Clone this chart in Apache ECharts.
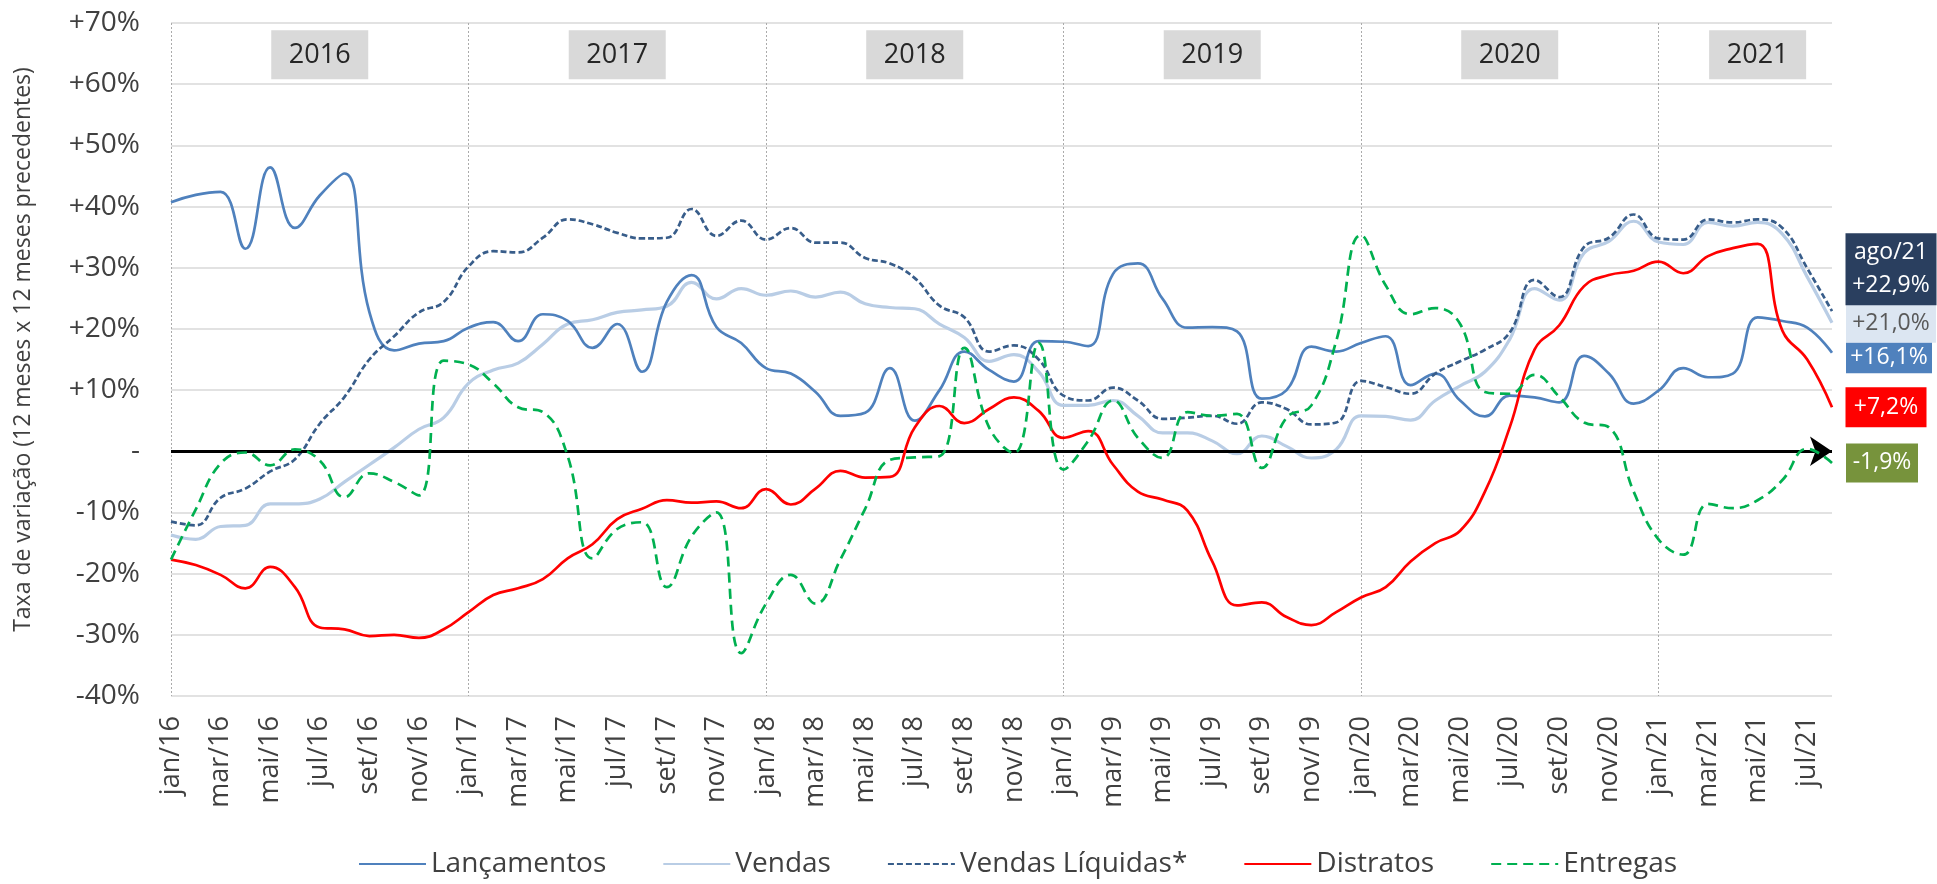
<!DOCTYPE html>
<html>
<head>
<meta charset="utf-8">
<script src="https://cdn.jsdelivr.net/npm/echarts/dist/echarts.min.js"></script>
<style>
  html, body { margin: 0; padding: 0; background: #fff; }
  #chart { width: 1937px; height: 884px; }
</style>
</head>
<body>
<div id="chart"></div>
<script>
// categorias: jan/16 .. ago/21
const monthNames = ['jan','fev','mar','abr','mai','jun','jul','ago','set','out','nov','dez'];
const yearSuffix = ['16','17','18','19','20','21'];
const months = [];
yearSuffix.forEach(y => monthNames.forEach(m => months.push(m + '/' + y)));
months.length = 68; // termina em ago/21

const yTickLabels = ['-40%','-30%','-20%','-10%','-','+10%','+20%','+30%','+40%','+50%','+60%','+70%'];

const yearLabels  = ['2016','2017','2018','2019','2020','2021'];
const yearAnchors = ['jul/16','jul/17','jul/18','jul/19','jul/20','mai/21'];
const yearBoxLevel = 64.8;

// séries (% variação 12m x 12m)
const lancamentos = [
  40.7, 41.9, 42.4, 33.1, 46.4, 36.5, 41.8, 45.4, 22.8, 16.5, 17.6, 18.0,
  20.2, 21.1, 18.0, 22.4, 21.3, 16.9, 20.8, 13.0, 24.4, 28.8, 20.3, 17.7,
  13.6, 12.7, 9.7, 5.8, 6.3, 13.6, 5.0, 10.0, 16.3, 13.3, 11.4, 18.0,
  17.9, 17.2, 29.0, 30.7, 24.9, 20.2, 20.3, 19.6, 8.6, 10.0, 17.1, 16.3,
  17.7, 18.8, 10.8, 12.7, 8.3, 5.7, 9.1, 8.8, 8.0, 15.6, 12.7, 7.8,
  9.9, 13.6, 12.1, 12.7, 21.9, 21.3, 20.2, 16.1
];
const vendas = [
  -13.7, -14.4, -12.3, -12.1, -8.6, -8.6, -7.8, -5.0, -2.2, 0.6, 3.6, 5.5,
  11.1, 13.3, 14.4, 17.5, 20.8, 21.5, 22.7, 23.1, 23.7, 27.6, 24.9, 26.6,
  25.5, 26.2, 25.2, 26.0, 24.1, 23.5, 23.3, 20.8, 18.6, 14.7, 15.8, 13.0,
  7.5, 7.5, 8.3, 5.8, 3.0, 3.0, 1.7, -0.4, 2.5, 0.8, -1.1, 0.3,
  5.8, 5.7, 5.1, 8.3, 10.7, 13.0, 18.3, 26.6, 24.7, 32.4, 34.3, 37.6,
  34.2, 33.8, 37.4, 36.8, 37.4, 35.5, 28.5, 21.0
];
const vendasLiquidas = [
  -11.5, -12.1, -7.6, -6.1, -3.3, -1.3, 4.5, 8.9, 15.0, 18.8, 22.7, 24.4,
  30.2, 32.7, 32.5, 34.9, 37.9, 37.1, 35.7, 34.8, 34.9, 39.6, 35.2, 37.7,
  34.6, 36.5, 34.1, 34.1, 31.6, 30.7, 28.3, 23.8, 21.9, 16.3, 17.3, 15.0,
  9.1, 8.3, 10.4, 8.3, 5.3, 5.5, 5.8, 4.5, 8.0, 6.9, 4.4, 4.7,
  11.5, 10.5, 9.4, 12.7, 14.7, 16.6, 19.4, 28.0, 25.2, 33.4, 34.9, 38.7,
  34.8, 34.6, 37.9, 37.4, 37.9, 36.5, 29.9, 22.9
];
const distratos = [
  -17.7, -18.6, -20.2, -22.4, -18.9, -22.2, -28.8, -29.1, -30.2, -30.0, -30.5, -29.1,
  -26.3, -23.5, -22.4, -20.9, -17.5, -15.2, -11.1, -9.4, -8.0, -8.4, -8.2, -9.3,
  -6.2, -8.7, -6.1, -3.2, -4.3, -4.2, 3.9, 7.4, 4.6, 6.9, 8.8, 6.6,
  2.2, 3.3, -2.2, -6.6, -7.9, -9.7, -18.0, -25.2, -24.7, -27.1, -28.4, -26.3,
  -23.9, -22.2, -18.0, -15.0, -13.0, -6.6, 3.9, 16.6, 20.6, 27.0, 28.8, 29.5,
  31.0, 29.1, 31.9, 33.2, 33.9, 19.7, 15.0, 7.2
];
const entregas = [
  -17.7, -9.5, -2.0, -0.2, -2.3, 0.3, -1.5, -7.5, -3.6, -5.0, -7.2, 14.8,
  14.2, 11.1, 7.2, 6.4, -0.8, -17.5, -12.7, -11.6, -22.2, -13.9, -10.0, -33.0,
  -24.9, -20.2, -24.9, -17.7, -9.4, -1.4, -1.0, -0.8, 16.9, 3.9, -0.3, 17.7,
  -3.0, 1.7, 8.3, 2.2, -1.1, 6.4, 5.8, 6.1, -2.7, 5.5, 7.5, 18.0,
  35.3, 27.1, 22.4, 23.4, 20.8, 9.7, 9.4, 12.5, 8.9, 4.7, 3.9, -6.6,
  -14.4, -16.9, -8.6, -9.3, -8.0, -4.7, 0.4, -1.9
];

const FONT = '"Open Sans", "Noto Sans", sans-serif';

function fmtPct(v) {
  return (v > 0 ? '+' : '') + v.toFixed(1).replace('.', ',') + '%';
}

// caixa com o último valor, à direita do gráfico
function endBox(data, box) {
  const last = data[data.length - 1];
  return {
    silent: true,
    animation: false,
    data: [{
      coord: [months[months.length - 1], last],
      symbol: 'rect',
      symbolSize: box.size,
      symbolOffset: box.offset,
      itemStyle: { color: box.color },
      label: {
        show: true,
        position: 'inside',
        fontFamily: FONT,
        fontSize: 23,
        lineHeight: 33,
        color: box.textColor,
        formatter: (box.prefix || '') + fmtPct(last)
      }
    }]
  };
}

const chart = echarts.init(document.getElementById('chart'), null, { renderer: 'canvas' });

const option = {
  animation: false,
  backgroundColor: '#fff',
  grid: {
    left: 171,
    right: 105,
    top: 23,
    bottom: 188,
    containLabel: false,
    outerBoundsMode: 'none'
  },
  legend: {
    left: 353,
    top: 845,
    itemWidth: 67,
    itemHeight: 14,
    itemGap: 56,
    itemStyle: { opacity: 0 },
    textStyle: { fontFamily: FONT, fontSize: 28, color: '#404040' },
    data: ['Lançamentos', 'Vendas', 'Vendas Líquidas*', 'Distratos', 'Entregas']
  },
  xAxis: {
    type: 'category',
    data: months,
    boundaryGap: false,
    axisLine: { show: false, onZero: false },
    axisTick: { show: false },
    axisLabel: {
      interval: 1,
      rotate: 90,
      margin: 20,
      fontFamily: FONT,
      fontSize: 27,
      color: '#404040'
    },
    splitLine: {
      show: true,
      interval: (idx) => idx % 12 === 0,
      lineStyle: { color: '#ABABAB', width: 1, type: [2, 2] }
    }
  },
  yAxis: {
    type: 'value',
    min: -40,
    max: 70,
    interval: 10,
    name: 'Taxa de variação (12 meses x 12 meses precedentes)',
    nameLocation: 'middle',
    nameGap: 136,
    nameRotate: 90,
    nameMoveOverlap: false,
    nameTextStyle: { fontFamily: FONT, fontSize: 23, color: '#404040', padding: [0, 0, 0, 20] },
    axisLine: { show: false },
    axisTick: { show: false },
    axisLabel: {
      margin: 31,
      fontFamily: FONT,
      fontSize: 28,
      color: '#404040',
      formatter: (v) => yTickLabels[Math.round((v + 40) / 10)]
    },
    splitLine: { lineStyle: { color: '#D9D9D9', width: 1.5 } }
  },
  series: [
    {
      name: 'Lançamentos',
      type: 'line',
      data: lancamentos,
      smooth: 0.45,
      symbol: 'none',
      lineStyle: { color: '#4F81BD', width: 2.7 },
      itemStyle: { color: '#4F81BD' },
      markPoint: {
        silent: true,
        animation: false,
        data: yearLabels.map((y, k) => ({
          name: y,
          coord: [yearAnchors[k], yearBoxLevel],
          symbol: 'rect',
          symbolSize: [97, 49],
          itemStyle: { color: '#D9D9D9' },
          label: {
            show: true,
            position: 'inside',
            formatter: y,
            fontFamily: FONT,
            fontSize: 27,
            color: '#262626'
          }
        })).concat(endBox(lancamentos, {
          size: [86, 31], offset: [57, 5], color: '#4F81BD', textColor: '#fff'
        }).data)
      },
      markLine: {
        silent: true,
        animation: false,
        symbol: ['none', 'arrow'],
        symbolSize: 22,
        label: { show: false },
        lineStyle: { color: '#000', width: 3, type: 'solid' },
        data: [{ yAxis: 0 }]
      },
      z: 3
    },
    {
      name: 'Vendas',
      type: 'line',
      data: vendas,
      smooth: 0.45,
      symbol: 'none',
      lineStyle: { color: '#B9CDE5', width: 3.2 },
      itemStyle: { color: '#B9CDE5' },
      markPoint: endBox(vendas, {
        size: [90, 38], offset: [59, 1], color: '#DCE6F2', textColor: '#595959'
      }),
      z: 2
    },
    {
      name: 'Vendas Líquidas*',
      type: 'line',
      data: vendasLiquidas,
      smooth: 0.45,
      symbol: 'none',
      lineStyle: { color: '#385D8A', width: 2.7, type: [6, 3] },
      itemStyle: { color: '#385D8A' },
      markPoint: endBox(vendasLiquidas, {
        size: [91, 72], offset: [59, -42], color: '#2A3F5F', textColor: '#fff',
        prefix: months[months.length - 1] + '\n'
      }),
      z: 4
    },
    {
      name: 'Distratos',
      type: 'line',
      data: distratos,
      smooth: 0.45,
      symbol: 'none',
      lineStyle: { color: '#FF0000', width: 2.7 },
      itemStyle: { color: '#FF0000' },
      markPoint: endBox(distratos, {
        size: [81, 40], offset: [54, 0], color: '#FF0000', textColor: '#fff'
      }),
      z: 5
    },
    {
      name: 'Entregas',
      type: 'line',
      data: entregas,
      smooth: 0.45,
      symbol: 'none',
      lineStyle: { color: '#00B050', width: 2.7, type: [10, 6] },
      itemStyle: { color: '#00B050' },
      markPoint: endBox(entregas, {
        size: [72, 39], offset: [50, 0], color: '#77933C', textColor: '#fff'
      }),
      z: 6
    }
  ]
};

chart.setOption(option);
</script>
</body>
</html>
